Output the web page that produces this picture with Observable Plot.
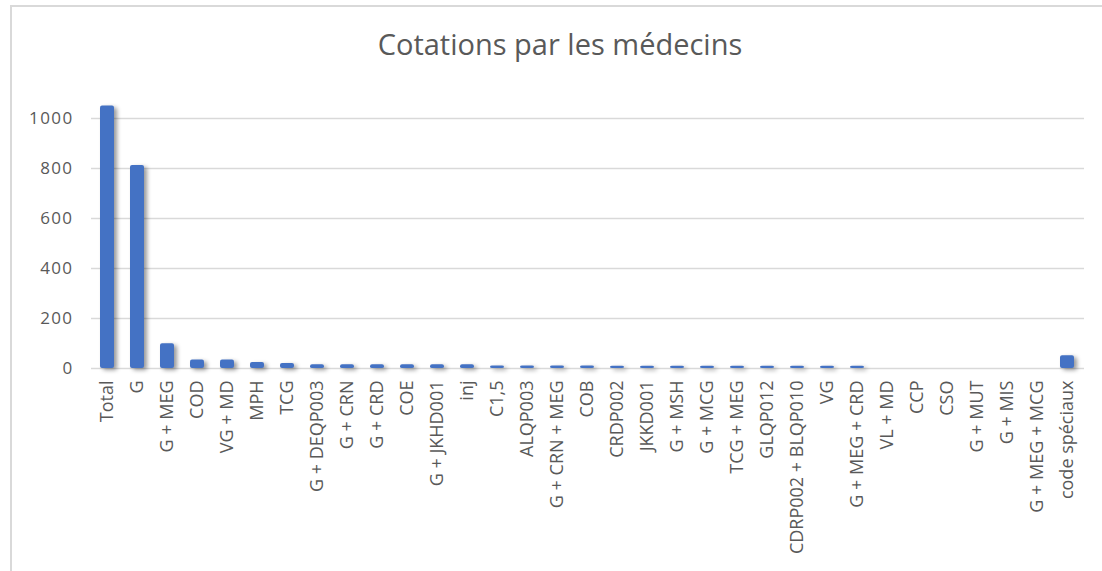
<!DOCTYPE html>
<html>
<head>
<meta charset="utf-8">
<script src="https://cdn.jsdelivr.net/npm/d3@7"></script>
<script src="https://cdn.jsdelivr.net/npm/@observablehq/plot@0.6"></script>
<style>
  html, body { margin: 0; padding: 0; background: #fff; }
  body { width: 1102px; height: 571px; position: relative; overflow: hidden; font-family: "Open Sans", sans-serif; }
  #frame { position: absolute; left: 10px; top: 5px; width: 1100px; height: 580px; border-top: 2px solid #d9d9d9; border-left: 2px solid #d9d9d9; box-sizing: border-box; }
  #title { position: absolute; top: 24px; left: 0; width: 1120px; text-align: center; font-size: 29px; line-height: normal; color: #595959; font-family: "Open Sans", sans-serif; }
  #chart { position: absolute; left: 0; top: 80px; }
</style>
</head>
<body>
<div id="frame"></div>
<div id="title">Cotations par les médecins</div>
<div id="chart"></div>
<script>
const categories = ["Total", "G", "G + MEG", "COD", "VG + MD", "MPH", "TCG", "G + DEQP003", "G + CRN", "G + CRD", "COE", "G + JKHD001", "inj", "C1,5", "ALQP003", "G + CRN + MEG", "COB", "CRDP002", "JKKD001", "G + MSH", "G + MCG", "TCG + MEG", "GLQP012", "CDRP002 + BLQP010", "VG", "G + MEG + CRD", "VL + MD", "CCP", "CSO", "G + MUT", "G + MIS", "G + MEG + MCG", "code spéciaux"];
const values = [1050, 812, 99, 34, 34, 24, 20, 15, 15, 15, 15, 15, 15, 10, 10, 10, 10, 9, 9, 9, 9, 9, 9, 9, 9, 9, 0, 0, 0, 0, 0, 0, 51];
const yTicks = [0, 200, 400, 600, 800, 1000];

const data = categories.map((c, i) => ({ category: c, value: values[i] }));

const chart = Plot.plot({
  width: 1102,
  height: 491,
  marginLeft: 91,
  marginRight: 18,
  marginTop: 13,
  marginBottom: 203,
  style: { fontFamily: "Open Sans, sans-serif", color: "#595959", background: "transparent" },
  x: { domain: categories, paddingInner: 0.53, paddingOuter: 0.265, label: null },
  y: { domain: [0, 1100], label: null },
  marks: [
    Plot.gridY(yTicks, { stroke: "#d9d9d9", strokeOpacity: 1, strokeWidth: 1.5 }),
    Plot.barY(data, { x: "category", y: "value", fill: "#4472c4", rx: 2 }),
    Plot.axisY(yTicks, { tickSize: 0, tickPadding: 18, fill: "#595959", label: null, tickFormat: d3.format("d") }),
    Plot.axisX({ tickSize: 0, tickPadding: 12, tickRotate: -90, fill: "#595959", label: null })
  ]
});
document.getElementById("chart").appendChild(chart);
chart.querySelectorAll('g[aria-label="bar"]').forEach(g => {
  g.style.filter = "drop-shadow(3px 2px 2px rgba(0,0,0,0.4))";
});
chart.querySelectorAll('g[aria-label="y-axis tick label"]').forEach(g => g.querySelectorAll("text").forEach(t => { t.style.fontSize = "17px"; t.style.letterSpacing = "1.4px"; }));
chart.querySelectorAll('g[aria-label="x-axis tick label"]').forEach(g => g.querySelectorAll("text").forEach(t => { t.style.fontSize = "18px"; }));
</script>
</body>
</html>
